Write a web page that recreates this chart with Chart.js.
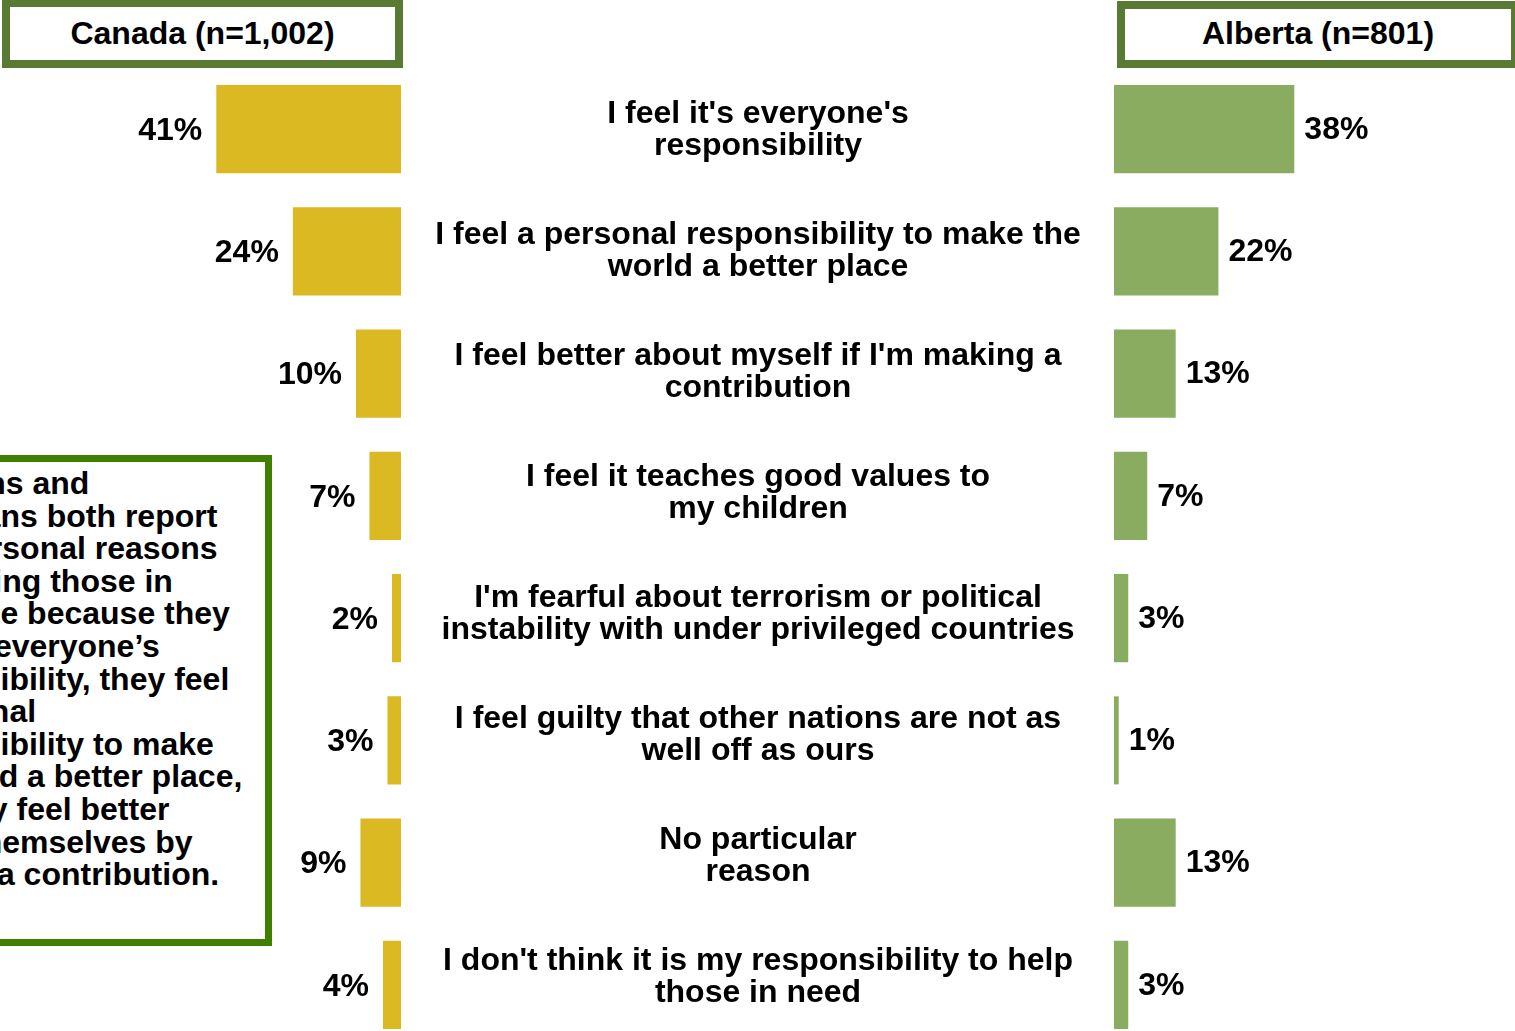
<!DOCTYPE html>
<html>
<head>
<meta charset="utf-8">
<script src="https://cdn.jsdelivr.net/npm/chart.js@4.4.1/dist/chart.umd.min.js"></script>
<style>
  html, body { margin: 0; padding: 0; width: 1515px; height: 1031px; overflow: hidden; background: #fff;
    font-family: "Liberation Sans", Arial, Helvetica, sans-serif; }
  canvas { position: absolute; top: 0; }
  #canadaChart { left: 0; }
  #albertaChart { left: 402px; }
  .title { position: absolute; box-sizing: border-box; border: 8px solid #587a32; background: #fff;
    font-weight: bold; font-size: 32px; text-align: center; color: #000; white-space: nowrap; }
  #titleCanada { left: 2px; top: -1px; width: 401px; height: 69px; line-height: 53px; }
  #titleAlberta { left: 1117px; top: 1px; width: 402px; height: 67px; line-height: 49px; }
  #note { position: absolute; left: -20px; top: 455px; width: 292px; height: 491px; box-sizing: border-box;
    border: 7px solid #408000; background: #fff; overflow: hidden; }
  #note p { position: absolute; left: -111px; top: 5px; margin: 0; white-space: pre; font-weight: bold;
    font-size: 32px; line-height: 32.6px; color: #000; }
</style>
</head>
<body>
<canvas id="canadaChart" width="401" height="1100" style="width:401px;height:1100px"></canvas>
<canvas id="albertaChart" width="1113" height="1100" style="width:1113px;height:1100px"></canvas>
<div class="title" id="titleCanada">Canada (n=1,002)</div>
<div class="title" id="titleAlberta">Alberta (n=801)</div>
<div id="note"><p>Albertans and
Canadians both report
core personal reasons
for helping those in
the globe because they
feel it's everyone’s
responsibility, they feel
a personal
responsibility to make
the world a better place,
and they feel better
about themselves by
making a contribution.</p></div>
<script>
// Reasons given for helping those in need (two lines each)
const reasons = [
  ["I feel it's everyone's", "responsibility"],
  ["I feel a personal responsibility to make the", "world a better place"],
  ["I feel better about myself if I'm making a", "contribution"],
  ["I feel it teaches good values to", "my children"],
  ["I'm fearful about terrorism or political", "instability with under privileged countries"],
  ["I feel guilty that other nations are not as", "well off as ours"],
  ["No particular", "reason"],
  ["I don't think it is my responsibility to help", "those in need"]
];
const canadaValues = [41, 24, 10, 7, 2, 3, 9, 4];
const albertaValues = [38, 22, 13, 7, 3, 1, 13, 3];

const FONT = '"Liberation Sans", Arial, Helvetica, sans-serif';

// Percent labels next to the end of each bar
const valueLabels = {
  id: 'valueLabels',
  afterDatasetsDraw(chart, args, opts) {
    const ctx = chart.ctx;
    const meta = chart.getDatasetMeta(0);
    const data = chart.data.datasets[0].data;
    ctx.save();
    ctx.font = 'bold 32px ' + FONT;
    ctx.fillStyle = '#000';
    ctx.textBaseline = 'middle';
    meta.data.forEach((bar, i) => {
      const p = bar.getProps(['x', 'y'], true);
      if (opts.side === 'left') {
        ctx.textAlign = 'right';
        ctx.fillText(data[i] + '%', p.x - opts.gap, p.y + 2);
      } else {
        ctx.textAlign = 'left';
        ctx.fillText(data[i] + '%', p.x + opts.gap, p.y + 1);
      }
    });
    ctx.restore();
  }
};

// Reason text centred in the gap between the two bar groups; rows are spread
// over the plot height on a slightly tighter pitch than the bars.
const reasonLabels = {
  id: 'reasonLabels',
  afterDraw(chart, args, opts) {
    const ctx = chart.ctx;
    const area = chart.chartArea;
    const cx = area.left / 2;
    const span = opts.max - opts.min;
    ctx.save();
    ctx.font = 'bold 32px ' + FONT;
    ctx.fillStyle = '#000';
    ctx.textAlign = 'center';
    ctx.textBaseline = 'middle';
    chart.data.labels.forEach((lines, i) => {
      const cy = area.top + (i - opts.min) / span * (area.bottom - area.top);
      const lh = 32;
      const y0 = cy - (lines.length - 1) * lh / 2;
      lines.forEach((t, k) => ctx.fillText(t, cx, y0 + k * lh + 1));
    });
    ctx.restore();
  }
};

const baseOptions = {
  indexAxis: 'y',
  responsive: false,
  animation: false,
  events: []
};
const basePlugins = { legend: { display: false }, tooltip: { enabled: false } };

new Chart(document.getElementById('canadaChart'), {
  type: 'bar',
  data: {
    labels: reasons,
    datasets: [{ data: canadaValues, backgroundColor: '#dbb923', borderWidth: 0,
      barPercentage: 0.72, categoryPercentage: 1.0 }]
  },
  options: {
    ...baseOptions,
    layout: { padding: { top: 68, bottom: 54, left: 0, right: 0 } },
    scales: {
      x: { type: 'linear', reverse: true, min: 0, max: 89, display: false },
      y: { type: 'category', display: false }
    },
    plugins: { ...basePlugins, valueLabels: { side: 'left', gap: 14 } }
  },
  plugins: [valueLabels]
});

new Chart(document.getElementById('albertaChart'), {
  type: 'bar',
  data: {
    labels: reasons,
    datasets: [{ data: albertaValues, backgroundColor: '#89ac61', borderWidth: 0,
      barPercentage: 0.72, categoryPercentage: 1.0 }]
  },
  options: {
    ...baseOptions,
    layout: { padding: { top: 68, bottom: 54, left: 712, right: 0 } },
    scales: {
      x: { type: 'linear', min: 0, max: 84.5, display: false },
      y: { type: 'category', display: false }
    },
    plugins: { ...basePlugins,
      valueLabels: { side: 'right', gap: 10 },
      reasonLabels: { min: -0.504, max: 7.579 } }
  },
  plugins: [valueLabels, reasonLabels]
});
</script>
</body>
</html>
